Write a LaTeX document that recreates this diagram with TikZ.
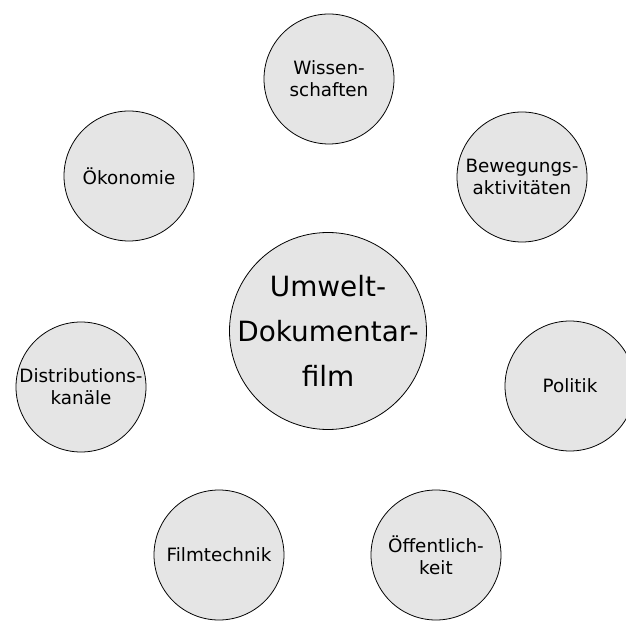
\documentclass[tikz,border=0pt]{standalone}
\usepackage{fontspec}
\setmainfont{DejaVu Sans}
\usepackage{tkz-graph}

\begin{document}
\begin{tikzpicture}[x=1bp,y=1bp]
\useasboundingbox (-328,-290) rectangle (298,331);
\clip (-328,-290) rectangle (298,331);
            % Vertices
\SetVertexNormal[Shape=circle,MinSize=197bp,FillColor=black!10,LineColor=black,LineWidth=0.8pt]%Vcenter
\tikzset{VertexStyle/.append style={align=center,inner sep=-11bp,font=\fontsize{28}{45}\selectfont}}
\Vertex[x=0,y=0,L={Umwelt-\\Dokumentar-\\film}]{U}
\SetVertexNormal[Shape=circle,MinSize=130bp,FillColor=black!10,LineColor=black,LineWidth=0.8pt]%Vring
\tikzset{VertexStyle/.append style={align=center,inner sep=0pt,font=\fontsize{18.4}{22}\selectfont}}
\Vertex[x=   1,y= 252,L={Wissen-\\schaften}]{W}
\Vertex[x= 194,y= 154,L={Bewegungs-\\aktivitäten}]{B}
\Vertex[x= 242,y= -55,L={Politik}]{P}
\Vertex[x= 108,y=-224,L={Öffentlich-\\keit}]{O}
\Vertex[x=-109,y=-224,L={Filmtechnik}]{F}
\Vertex[x=-247,y= -56,L={Distributions-\\kanäle}]{D}
\Vertex[x=-199,y= 155,L={Ökonomie}]{K}

          \end{tikzpicture}
\end{document}
